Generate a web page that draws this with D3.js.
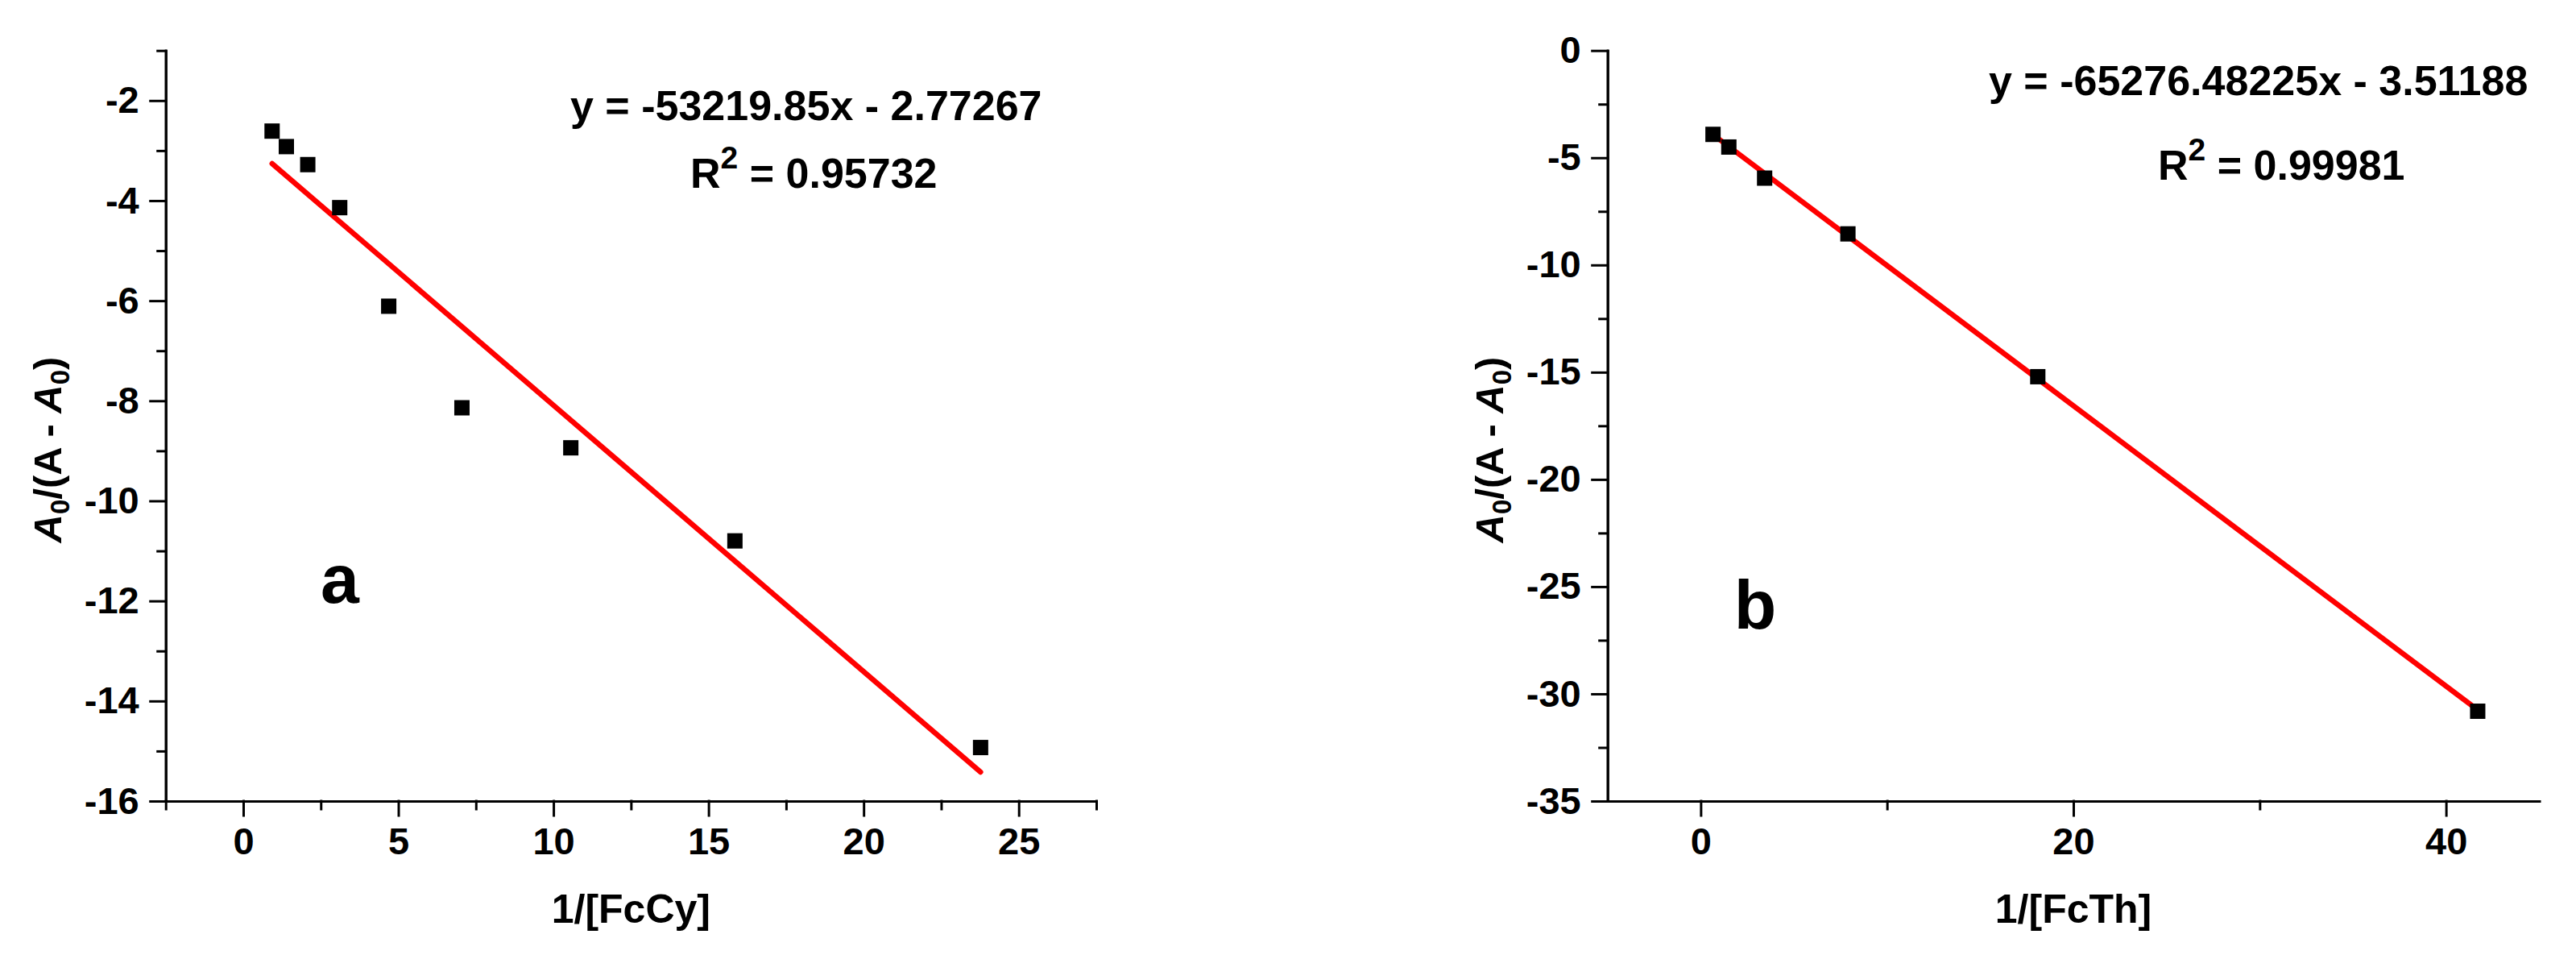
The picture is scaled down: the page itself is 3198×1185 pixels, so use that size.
<!DOCTYPE html>
<meta charset="utf-8">
<style>

body { margin: 0; background: #fff; }

text {
  font-family: "Liberation Sans", Arial, sans-serif;
  font-weight: bold;
  fill: #000;
}

.axis path, .axis line {
  stroke: #000;
  stroke-width: 3;
  stroke-linecap: square;
}

.axis text {
  font-size: 47px;
}

</style>
<svg width="3198" height="1185"></svg>
<script src="https://d3js.org/d3.v7.min.js"></script>
<script>

// panel a : 1/[FcCy]
var xA = [0.93, 1.39, 2.08, 3.11, 4.69, 7.05, 10.56, 15.85, 23.77];
var yA = [-2.61, -2.92, -3.28, -4.14, -6.11, -8.14, -8.94, -10.80, -14.93];
var fitAx = [0.93, 23.77];
var fitAy = [-3.26, -15.42];
var xTicksA = [0, 5, 10, 15, 20, 25];
var xMinorA = [-2.5, 2.5, 7.5, 12.5, 17.5, 22.5, 27.5];
var yTicksA = [-16, -14, -12, -10, -8, -6, -4, -2];
var yMinorA = [-15, -13, -11, -9, -7, -5, -3, -1];

// panel b : 1/[FcTh]
var xB = [0.66, 1.51, 3.43, 7.90, 18.09, 41.70];
var yB = [-3.91, -4.50, -5.95, -8.55, -15.21, -30.81];
var fitBx = [0.66, 41.70];
var fitBy = [-3.92, -30.75];
var xTicksB = [0, 20, 40];
var xMinorB = [10, 30];
var yTicksB = [-35, -30, -25, -20, -15, -10, -5, 0];
var yMinorB = [-32.5, -27.5, -22.5, -17.5, -12.5, -7.5, -2.5];

var svg = d3.select("svg");

function panel(p) {
  var x = d3.scaleLinear().domain(p.xDomain).range([p.left, p.right]);
  var y = d3.scaleLinear().domain(p.yDomain).range([994, 62.7]);
  var g = svg.append("g");
  var fmt = function(d) { return String(d); };

  g.append("g")
      .attr("class", "axis")
      .attr("transform", "translate(0,994)")
      .call(d3.axisBottom(x).tickValues(p.xMinor).tickSize(10).tickSizeOuter(0).tickFormat(""));
  g.append("g")
      .attr("class", "axis")
      .attr("transform", "translate(0,994)")
      .call(d3.axisBottom(x).tickValues(p.xTicks).tickSize(18).tickSizeOuter(0).tickPadding(15).tickFormat(fmt));

  g.append("g")
      .attr("class", "axis")
      .attr("transform", "translate(" + p.left + ",0)")
      .call(d3.axisLeft(y).tickValues(p.yMinor).tickSize(10).tickSizeOuter(0).tickFormat(""));
  g.append("g")
      .attr("class", "axis")
      .attr("transform", "translate(" + p.left + ",0)")
      .call(d3.axisLeft(y).tickValues(p.yTicks).tickSize(19).tickSizeOuter(0).tickPadding(14).tickFormat(fmt));

  g.append("line")
      .attr("x1", x(p.fitX[0]))
      .attr("y1", y(p.fitY[0]))
      .attr("x2", x(p.fitX[1]))
      .attr("y2", y(p.fitY[1]))
      .attr("stroke", "#ff0000")
      .attr("stroke-width", 6.5)
      .attr("stroke-linecap", "round");

  g.append("g")
    .selectAll("rect")
    .data(p.xs)
    .enter().append("rect")
      .attr("x", function(d) { return x(d) - 9.5; })
      .attr("y", function(d, i) { return y(p.ys[i]) - 9.5; })
      .attr("width", 19)
      .attr("height", 19)
      .attr("fill", "#000");

  // axis titles
  g.append("text")
      .attr("x", (p.left + p.right) / 2)
      .attr("y", 1145)
      .attr("text-anchor", "middle")
      .style("font-size", "50px")
      .text(p.xTitle);

  var yt = g.append("text")
      .attr("transform", "translate(" + (p.left - 130) + ",558) rotate(-90)")
      .attr("text-anchor", "middle")
      .style("font-size", "49px");
  yt.append("tspan").style("font-style", "italic").text("A");
  yt.append("tspan").attr("dy", 10).style("font-size", "33px").text("0");
  yt.append("tspan").attr("dy", -10).text("/(A - ");
  yt.append("tspan").style("font-style", "italic").text("A");
  yt.append("tspan").attr("dy", 10).style("font-size", "33px").text("0");
  yt.append("tspan").attr("dy", -10).text(")");

  // fit equation
  g.append("text")
      .attr("x", p.eqX)
      .attr("y", p.eqY)
      .style("font-size", "52px")
      .text(p.eq);

  var r2 = g.append("text")
      .attr("x", p.r2X)
      .attr("y", p.r2Y)
      .style("font-size", "52px");
  r2.append("tspan").text("R");
  r2.append("tspan").attr("dy", -24).style("font-size", "39px").text("2");
  r2.append("tspan").attr("dy", 24).text(" = " + p.r2);

  g.append("text")
      .attr("x", p.tagX)
      .attr("y", p.tagY)
      .attr("text-anchor", "middle")
      .style("font-size", "86px")
      .text(p.tag);
}

panel({
  xs: xA, ys: yA, fitX: fitAx, fitY: fitAy,
  xDomain: [-2.5, 27.5], yDomain: [-16, -1],
  left: 205.7, right: 1361,
  xTicks: xTicksA, xMinor: xMinorA, yTicks: yTicksA, yMinor: yMinorA,
  xTitle: "1/[FcCy]",
  eq: "y = -53219.85x - 2.77267", eqX: 708, eqY: 149,
  r2: "0.95732", r2X: 857, r2Y: 233,
  tag: "a", tagX: 422, tagY: 748
});

panel({
  xs: xB, ys: yB, fitX: fitBx, fitY: fitBy,
  xDomain: [-5, 45], yDomain: [-35, 0],
  left: 1995.7, right: 3152.3,
  xTicks: xTicksB, xMinor: xMinorB, yTicks: yTicksB, yMinor: yMinorB,
  xTitle: "1/[FcTh]",
  eq: "y = -65276.48225x - 3.51188", eqX: 2469, eqY: 118,
  r2: "0.99981", r2X: 2679, r2Y: 223,
  tag: "b", tagX: 2179, tagY: 780
});

</script>
